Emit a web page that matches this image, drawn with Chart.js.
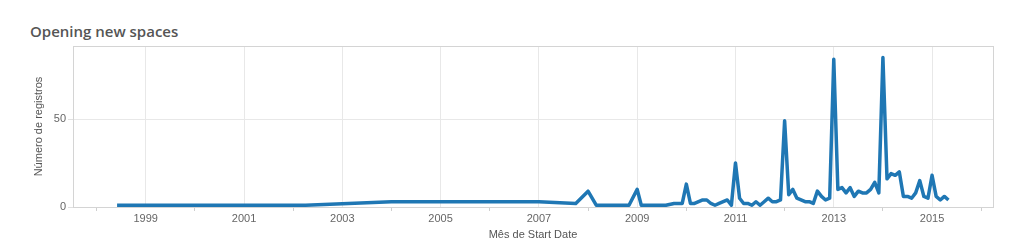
<!DOCTYPE html>
<html>
<head>
<meta charset="utf-8">
<script src="https://cdn.jsdelivr.net/npm/chart.js@4/dist/chart.umd.min.js"></script>
<style>
  html, body { margin: 0; padding: 0; background: #fff; }
  #wrap { position: relative; width: 1019px; height: 244px; }
  #title {
    position: absolute; left: 30px; top: 21px;
    font: 600 15px "Open Sans", "Noto Sans", sans-serif; color: #555;
  }
  canvas { position: absolute; left: 0; top: 0; }
</style>
</head>
<body>
<div id="wrap">
  <div id="title">Opening new spaces</div>
  <canvas id="chart" width="1019" height="244"></canvas>
</div>
<script>
  // month of start date -> number of records
  const months = [
    '1998-06', '2002-04', '2004-01', '2007-01', '2007-10',
    '2008-01', '2008-03', '2008-11',
    '2009-01', '2009-02', '2009-08', '2009-10', '2009-11', '2009-12',
    '2010-01', '2010-02', '2010-03', '2010-04', '2010-05', '2010-06', '2010-07', '2010-08', '2010-09', '2010-10', '2010-11', '2010-12',
    '2011-01', '2011-02', '2011-03', '2011-04', '2011-05', '2011-06', '2011-07', '2011-08', '2011-09', '2011-10', '2011-11', '2011-12',
    '2012-01', '2012-02', '2012-03', '2012-04', '2012-05', '2012-06', '2012-07', '2012-08', '2012-09', '2012-10', '2012-11', '2012-12',
    '2013-01', '2013-02', '2013-03', '2013-04', '2013-05', '2013-06', '2013-07', '2013-08', '2013-09', '2013-10', '2013-11', '2013-12',
    '2014-01', '2014-02', '2014-03', '2014-04', '2014-05', '2014-06', '2014-07', '2014-08', '2014-09', '2014-10', '2014-11', '2014-12',
    '2015-01', '2015-02', '2015-03', '2015-04', '2015-05'
  ];
  const records = [
    1, 1, 3, 3, 2,
    9, 1, 1,
    10, 1, 1, 2, 2, 2,
    13, 2, 2, 3, 4, 4, 2, 1, 2, 3, 4, 1,
    25, 5, 2, 2, 1, 3, 1, 3, 5, 3, 3, 4,
    49, 7, 10, 5, 4, 3, 3, 2, 9, 6, 4, 5,
    84, 10, 11, 8, 11, 6, 9, 8, 8, 10, 14, 8,
    85, 16, 19, 18, 20, 6, 6, 5, 8, 15, 6, 5,
    18, 6, 4, 6, 4
  ];
  const yearTicks = [1998, 1999, 2000, 2001, 2002, 2003, 2004, 2005, 2006, 2007, 2008,
                     2009, 2010, 2011, 2012, 2013, 2014, 2015, 2016];
  const valueTicks = [0, 50];

  const toYear = (m) => {
    const [y, mo] = m.split('-').map(Number);
    return y + (mo - 1) / 12;
  };
  const points = months.map((m, i) => ({ x: toYear(m), y: records[i] }));

  const font = { family: '"Liberation Sans", Arial, sans-serif', size: 11 };
  const isLabelled = (v) => v % 2 === 1;

  const frame = {
    id: 'frame',
    afterDraw(chart) {
      const { ctx, chartArea: a } = chart;
      ctx.save();
      ctx.strokeStyle = '#d4d4d4';
      ctx.lineWidth = 1;
      ctx.strokeRect(Math.round(a.left) + 0.5, Math.round(a.top) + 0.5,
        Math.round(a.right - a.left), Math.round(a.bottom - a.top));
      ctx.restore();
    }
  };

  new Chart(document.getElementById('chart'), {
    type: 'line',
    data: {
      datasets: [{
        data: points,
        borderColor: '#1f77b4',
        borderWidth: 3.5,
        borderJoinStyle: 'round',
        pointRadius: 0,
        tension: 0,
        fill: false
      }]
    },
    options: {
      responsive: false,
      animation: false,
      layout: { padding: { left: 32, right: 26, top: 46, bottom: 0 } },
      plugins: { legend: { display: false }, tooltip: { enabled: false } },
      scales: {
        x: {
          type: 'linear',
          min: 1997.52,
          max: 2016.24,
          afterBuildTicks: (s) => { s.ticks = yearTicks.map(v => ({ value: v })); },
          afterFit: (s) => { s.height = 37; },
          border: { display: false },
          grid: {
            color: (c) => isLabelled(c.tick.value) ? '#e8e8e8' : 'rgba(0,0,0,0)',
            tickColor: (c) => isLabelled(c.tick.value) ? 'rgba(0,0,0,0)' : '#cfcfcf',
            tickLength: 4
          },
          ticks: {
            autoSkip: false,
            maxRotation: 0,
            padding: 1,
            color: '#666',
            font,
            callback: (v) => isLabelled(v) ? String(v) : ''
          },
          title: {
            display: true,
            text: 'Mês de Start Date',
            color: '#555',
            font,
            padding: { top: 0, bottom: 2 }
          }
        },
        y: {
          min: 0,
          max: 91.5,
          afterBuildTicks: (s) => { s.ticks = valueTicks.map(v => ({ value: v })); },
          afterFit: (s) => { s.width = 73 - 32; },
          border: { display: false },
          grid: { color: '#e8e8e8', tickColor: '#e0e0e0', tickLength: 5 },
          ticks: { color: '#666', font, padding: 2 },
          title: {
            display: true,
            text: 'Número de registros',
            color: '#555',
            font,
            padding: { top: 0, bottom: 0 }
          }
        }
      }
    },
    plugins: [frame]
  });
</script>
</body>
</html>
